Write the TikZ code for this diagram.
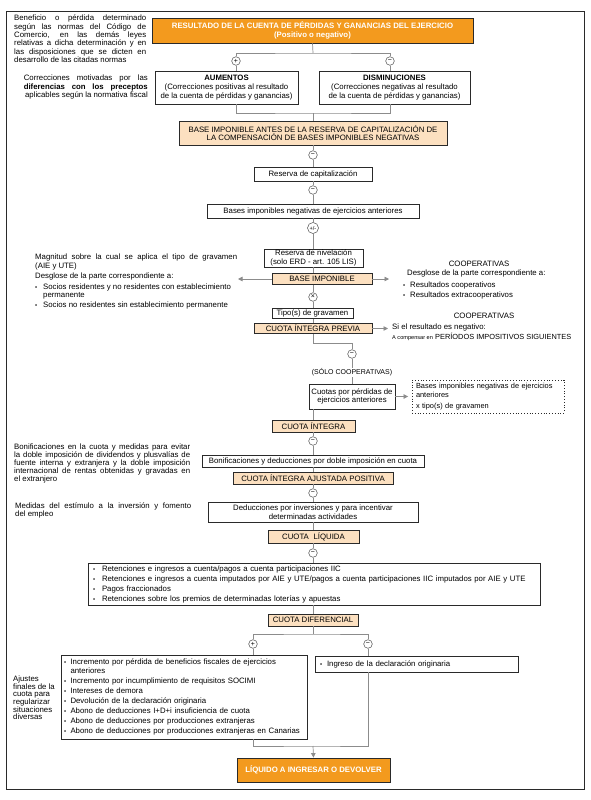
\documentclass[tikz,border=0pt]{standalone}
\usepackage{fontspec}
\setmainfont{Liberation Sans}
\usetikzlibrary{arrows.meta}
\definecolor{orgA}{HTML}{F39A1E}
\definecolor{orgB}{HTML}{FCE0C0}
\definecolor{lineC}{HTML}{8C8C8C}
\definecolor{bordC}{HTML}{2A2A2A}
\newcommand{\fs}[2]{\fontsize{#1}{#2}\selectfont}
\newcommand{\jus}[2]{\makebox[#1][s]{#2}}
\newcommand{\bu}[1][7pt]{\makebox[#1][l]{\fs{6}{6}\textbullet}}
\begin{document}
\begin{tikzpicture}[x=1pt,y=-1pt,
  every node/.style={inner sep=0pt, font=\fs{7.8}{8.6}},
  box/.style={draw=bordC, line width=0.8pt, fill=white, align=center},
  obox/.style={box, fill=orgA, text=white, font=\fs{7.8}{8.8}\bfseries},
  lbox/.style={box, fill=orgB},
  conn/.style={draw=lineC, line width=0.7pt},
  arr/.style={conn, -{Triangle[length=4.5pt,width=4.5pt]}},
  sym/.style={circle, draw=bordC!85, line width=0.5pt, fill=white, minimum size=8.6pt, font=\fs{7}{7}},
  txt/.style={align=left, anchor=north west},
]
\useasboundingbox (0,0) rectangle (590,800);
\fill[white] (0,0) rectangle (590,800);
\draw[bordC, line width=0.9pt] (6,11) rectangle (584,789);

% ---------- main boxes ----------
\node[obox, minimum width=321pt, minimum height=25pt] (res) at (312.5,30.5) {RESULTADO DE LA CUENTA DE PÉRDIDAS Y GANANCIAS DEL EJERCICIO\\(Positivo o negativo)};
\node[sym] (cp1) at (236,61) {+};
\node[sym] (cm1) at (390,61) {−};
\node[box, minimum width=143pt, minimum height=33pt, font=\fs{7.8}{9.2}] (aum) at (226.5,87.5) {\textbf{AUMENTOS}\\(Correcciones positivas al resultado\\de la cuenta de pérdidas y ganancias)};
\node[box, minimum width=151pt, minimum height=33pt, font=\fs{7.8}{9.2}] (dis) at (394.5,87.5) {\textbf{DISMINUCIONES}\\(Correcciones negativas al resultado\\de la cuenta de pérdidas y ganancias)};
\node[lbox, minimum width=268pt, minimum height=24pt] (bai) at (313,133) {BASE IMPONIBLE ANTES DE LA RESERVA DE CAPITALIZACIÓN DE\\LA COMPENSACIÓN DE BASES IMPONIBLES NEGATIVAS};
\node[sym] (m1) at (313,155) {−};
\node[box, minimum width=118pt, minimum height=14pt] (rcap) at (313,174) {Reserva de capitalización};
\node[sym] (m2) at (313,190) {−};
\node[box, minimum width=212pt, minimum height=14pt] (bneg) at (313,211) {Bases imponibles negativas de ejercicios anteriores};
\node[sym, minimum size=11pt, font=\fs{5.6}{5.6}] (pm) at (313,228) {+/-};
\node[box, minimum width=99pt, minimum height=18pt] (rniv) at (313.5,258) {Reserva de nivelación\\(solo ERD - art. 105 LIS)};
\node[lbox, minimum width=100pt, minimum height=11pt] (bi) at (322,279) {BASE IMPONIBLE};
\node[sym] (tx) at (313,297) {×};
\node[box, minimum width=81pt, minimum height=10pt] (tipo) at (312.5,313.5) {Tipo(s) de gravamen};
\node[lbox, minimum width=118pt, minimum height=10pt] (cip) at (313,328.5) {CUOTA ÍNTEGRA PREVIA};
\node[sym] (m3) at (352,354) {−};
\node[box, minimum width=86pt, minimum height=25pt] (cuo) at (352,396.5) {Cuotas por pérdidas de\\ejercicios anteriores};
\node[draw=bordC, dotted, line width=0.8pt, minimum width=152pt, minimum height=33pt, text width=144pt, align=left, font=\fs{7.4}{8.4}] (dot) at (488,396.5) {\mbox{Bases imponibles negativas de ejercicios}\\anteriores\\[2.5pt]x tipo(s) de gravamen};
\node[lbox, minimum width=83pt, minimum height=12pt] (ci) at (313.5,426) {CUOTA ÍNTEGRA};
\node[sym] (m4) at (313,441) {−};
\node[box, minimum width=222pt, minimum height=12pt] (bon) at (313,461) {Bonificaciones y deducciones por doble imposición en cuota};
\node[lbox, minimum width=160pt, minimum height=12pt] (cia) at (313,478) {CUOTA ÍNTEGRA AJUSTADA POSITIVA};
\node[sym] (m5) at (313,493) {−};
\node[box, minimum width=210pt, minimum height=20pt] (ded) at (313,512) {Deducciones por inversiones y para incentivar\\determinadas actividades};
\node[lbox, minimum width=91pt, minimum height=13pt] (cl) at (313.5,536.5) {CUOTA\hspace{2.5pt} LÍQUIDA};
\node[sym] (m6) at (313,553) {−};
\node[box, minimum width=452pt, minimum height=42pt, text width=442pt, align=left, font=\fs{7.8}{10}] (ret) at (314,584) {\bu[9pt]Retenciones e ingresos a cuenta/pagos a cuenta participaciones IIC\\
\bu[9pt]Retenciones e ingresos a cuenta imputados por AIE y UTE/pagos a cuenta participaciones IIC imputados por AIE y UTE\\
\bu[9pt]Pagos fraccionados\\
\bu[9pt]Retenciones sobre los premios de determinadas loterías y apuestas};
\node[lbox, minimum width=90pt, minimum height=12pt] (cd) at (313,620) {CUOTA DIFERENCIAL};
\node[sym] (p2) at (253,644) {+};
\node[sym] (m7) at (368,644) {−};
\node[box, minimum width=246pt, minimum height=84pt, text width=240pt, align=left, font=\fs{7.8}{8.6}] (lb) at (184,697) {\bu[6.5pt]\jus{232pt}{Incremento por pérdida de beneficios fiscales de ejercicios}\\
\hspace*{6.5pt}anteriores\\[1.4pt]
\bu[6.5pt]Incremento por incumplimiento de requisitos SOCIMI\\[1.4pt]
\bu[6.5pt]Intereses de demora\\[1.4pt]
\bu[6.5pt]Devolución de la declaración originaria\\[1.4pt]
\bu[6.5pt]Abono de deducciones I+D+i insuficiencia de cuota\\[1.4pt]
\bu[6.5pt]Abono de deducciones por producciones extranjeras\\[1.4pt]
\bu[6.5pt]Abono de deducciones por producciones extranjeras en Canarias};
\node[box, minimum width=203pt, minimum height=16pt, text width=193pt, align=left] (rb) at (416.5,664) {\bu Ingreso de la declaración originaria};
\node[obox, minimum width=153pt, minimum height=24pt] (fin) at (313.5,770) {LÍQUIDO A INGRESAR O DEVOLVER};

% ---------- junction coordinates ----------
\coordinate (ax) at (313,0);
\coordinate (j1) at (313,53);
\coordinate (j2) at (313,113);
\coordinate (j3) at (313,343);
\coordinate (j4) at (313,634);
\coordinate (j5) at (313,746);
\coordinate (biL) at (238,279);
\coordinate (biR) at (389,279);
\coordinate (cipR) at (388,328.5);

% ---------- connectors ----------
\draw[conn] (res.south) -- (j1);
\draw[conn] (cp1.north) |- (j1) -| (cm1.north);
\draw[conn] (cp1.south) -- (cp1.south |- aum.north);
\draw[conn] (cm1.south) -- (cm1.south |- dis.north);
\draw[conn] (cp1 |- aum.south) |- (j2) -| (cm1 |- dis.south);
\draw[conn] (j2) -- (bai.north);
\foreach \a/\b in {bai/m1, m1/rcap, rcap/m2, m2/bneg, bneg/pm, pm/rniv, rniv/bi, bi/tx, tx/tipo, tipo/cip}
  \draw[conn] (ax |- \a.south) -- (ax |- \b.north);
\draw[conn] (ax |- cip.south) -- (j3) -| (m3.north);
\draw[conn] (m3.south) -- (m3 |- cuo.north);
\draw[conn] (ax |- cuo.south) -- (ax |- ci.north);
\foreach \a/\b in {ci/m4, m4/bon, bon/cia, cia/m5, m5/ded, ded/cl, cl/m6, m6/ret, ret/cd}
  \draw[conn] (ax |- \a.south) -- (ax |- \b.north);
\draw[conn] (ax |- cd.south) -- (j4);
\draw[conn] (p2.north) |- (j4) -| (m7.north);
\draw[conn] (p2.south) -- (p2 |- lb.north);
\draw[conn] (m7.south) -- (m7 |- rb.north);
\draw[conn] (p2 |- lb.south) |- (j5) -| (m7 |- rb.south);
\draw[arr] (j5) -- (fin.north);
\draw[arr] (bi.west) -- (biL);
\draw[arr] (bi.east) -- (biR);
\draw[arr] (cip.east) -- (cipR);
\draw[arr, shorten >=3.5pt] (cuo.east) -- (dot.west);

% ---------- annotations ----------
\node[fill=white, inner sep=1pt, font=\fs{7}{8}] (sc) at (352,372.5) {(SÓLO COOPERATIVAS)};
\node[txt, font=\fs{7.8}{8.3}] (tl) at (14,15) {\jus{132pt}{Beneficio o pérdida determinado}\\
\jus{132pt}{según las normas del Código de}\\
\jus{132pt}{Comercio, en las demás leyes}\\
\jus{132pt}{relativas a dicha determinación y en}\\
\jus{132pt}{las disposiciones que se dicten en}\\
desarrollo de las citadas normas};
\node[txt, anchor=north east, align=right, font=\fs{7.8}{8.2}] (corr) at (148,75) {\jus{124pt}{Correcciones motivadas por las}\\
\jus{124pt}{\bfseries diferencias con los preceptos}\\
aplicables según la normativa fiscal};
\node[txt] (magn) at (35,254) {\jus{202pt}{Magnitud sobre la cual se aplica el tipo de gravamen}\\(AIE y UTE)};
\node[txt] (desg1) at (35,273) {Desglose de la parte correspondiente a:};
\node[txt] (soc) at (35,283.5) {\bu[8pt]Socios residentes y no residentes con establecimiento\\
\hspace*{8pt}permanente\\[0.8pt]
\bu[8pt]Socios no residentes sin establecimiento permanente};
\node (coopA) at (479,264) {COOPERATIVAS};
\node[txt] (desg2) at (407,270) {Desglose de la parte correspondiente a:};
\node[txt, font=\fs{7.8}{10}] (resc) at (403,281.5) {\bu Resultados cooperativos\\\bu Resultados extracooperativos};
\node (coopB) at (484,316) {COOPERATIVAS};
\node[txt, font=\fs{7.8}{10}] (neg) at (392,324) {Si el resultado es negativo:\\{\fs{5.6}{6}A compensar en} {\fs{7.4}{8}PERÍODOS IMPOSITIVOS SIGUIENTES}};
\node[txt, font=\fs{7.8}{8}] (bonL) at (14,443.5) {\jus{176pt}{Bonificaciones en la cuota y medidas para evitar}\\
\jus{176pt}{la doble imposición de dividendos y plusvalías de}\\
\jus{176pt}{fuente interna y extranjera y la doble imposición}\\
\jus{176pt}{internacional de rentas obtenidas y gravadas en}\\
el extranjero};
\node[txt, font=\fs{7.8}{8}] (medL) at (15,503) {\jus{176pt}{Medidas del estímulo a la inversión y fomento}\\del empleo};
\node[txt, font=\fs{7.8}{7.7}] (ajL) at (13,675.5) {Ajustes\\finales de la\\cuota para\\regularizar\\situaciones\\diversas};
\end{tikzpicture}
\end{document}
